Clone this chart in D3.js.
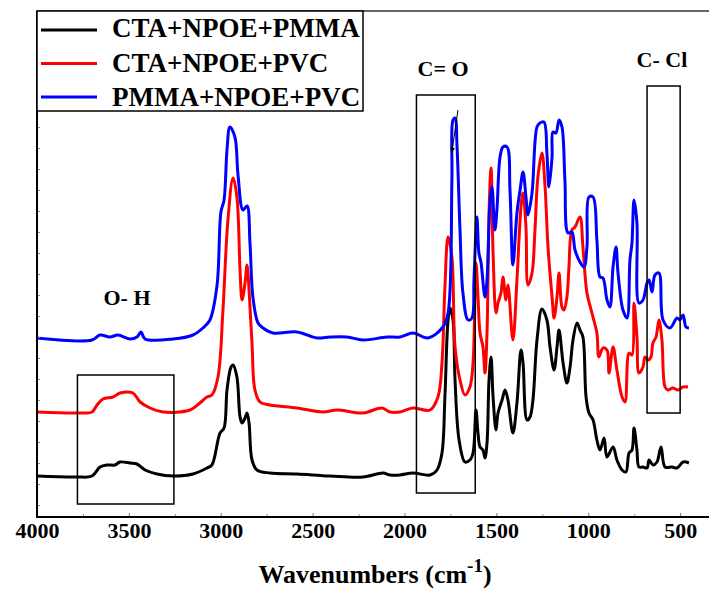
<!DOCTYPE html>
<html>
<head>
<meta charset="utf-8">
<script src="https://cdn.jsdelivr.net/npm/d3@7"></script>
<style>
    body { margin: 0; background: #fff; }
    svg { display: block; font-family: "Liberation Serif", "Times New Roman", serif; font-weight: bold; }
</style>
</head>
<body>
<div id="chart"></div>
<script>
// Legend names
const seriesNames = ['CTA+NPOE+PMMA', 'CTA+NPOE+PVC', 'PMMA+NPOE+PVC'];

// FTIR spectra: [wavenumber, intensity (a.u.)]
const ctaNpoePmma = [
    [4000, 8.2], [3782, 8], [3701, 8.2], [3657, 10], [3619, 10.4], [3576, 10.4], [3548, 11], [3494, 10.8],
    [3456, 10.6], [3412, 9.4], [3347, 8.6], [3260, 8.2], [3151, 8.6], [3075, 9.8], [3048, 10.4], [3004, 16.8],
    [2982, 17.8], [2966, 25.4], [2944, 30], [2933, 30.4], [2912, 28], [2895, 20], [2884, 18.8], [2868, 19.8],
    [2857, 20.8], [2846, 18.8], [2830, 11.4], [2803, 9.4], [2732, 8.8], [2585, 8.6], [2405, 8.2], [2226, 8],
    [2117, 8.8], [2079, 8.4], [2025, 8.4], [1954, 8.8], [1861, 8.4], [1823, 9.4], [1796, 12.8], [1780, 24],
    [1763, 39.4], [1752, 41.8], [1736, 39.4], [1725, 27.4], [1703, 15.4], [1671, 11], [1644, 11.4], [1627, 12.8],
    [1611, 21.4], [1600, 16.8], [1589, 14], [1573, 13.4], [1562, 11.8], [1551, 14.8], [1540, 27.4], [1529, 32],
    [1518, 24], [1502, 17.4], [1491, 20.8], [1469, 23.4], [1453, 25.4], [1437, 23.4], [1410, 16.8], [1388, 22.8],
    [1366, 33.4], [1355, 30.8], [1333, 19.4], [1317, 20], [1301, 23.4], [1279, 35.4], [1252, 41.6], [1225, 39.4],
    [1208, 34], [1186, 29.4], [1170, 34], [1159, 37.4], [1137, 30.8], [1116, 26.8], [1099, 30], [1083, 35.4],
    [1061, 38.8], [1045, 37.4], [1029, 36], [1012, 24], [996, 20.8], [974, 19.4], [953, 15.4], [936, 13.4],
    [914, 15.8], [898, 12], [865, 14], [844, 11.4], [816, 9.4], [795, 9], [778, 12.8], [762, 13.4],
    [751, 17.8], [735, 13.4], [724, 10], [702, 10], [680, 9.8], [669, 11.4], [648, 10.4], [626, 11],
    [604, 14], [582, 10], [544, 10], [517, 9.8], [484, 11], [452, 10.8]
];

const ctaNpoePvc = [
    [4000, 21], [3782, 20.8], [3701, 21], [3673, 22.4], [3641, 23.6], [3586, 24], [3548, 24.8], [3478, 24.8],
    [3439, 23], [3385, 21.8], [3314, 21], [3167, 21.4], [3113, 22.8], [3075, 24], [3048, 24.4], [3015, 28],
    [2988, 41.4], [2961, 59.4], [2933, 67.8], [2912, 64], [2895, 49.4], [2884, 43.4], [2868, 46.8], [2857, 50.4],
    [2852, 48.8], [2830, 34.8], [2814, 25.4], [2786, 23], [2732, 22.4], [2585, 21.8], [2444, 21], [2367, 21.4],
    [2226, 20.8], [2123, 21.8], [2079, 21], [2025, 21], [1954, 21.8], [1861, 21.4], [1818, 24], [1796, 30.8],
    [1780, 46], [1763, 56], [1742, 52], [1725, 34], [1698, 27.4], [1671, 24.4], [1644, 26], [1627, 30.8],
    [1611, 50.8], [1600, 44], [1589, 36.8], [1573, 34], [1562, 28.8], [1551, 36.8], [1540, 60.8], [1529, 69.8],
    [1518, 52.8], [1502, 40.8], [1491, 42.8], [1475, 44.8], [1464, 48], [1448, 43.4], [1437, 46.4], [1410, 35.4],
    [1388, 47.4], [1366, 62], [1355, 64.8], [1339, 58], [1328, 46.4], [1306, 48.8], [1290, 57.4], [1274, 68],
    [1252, 72.8], [1235, 66], [1219, 54], [1197, 44], [1186, 39.8], [1170, 44], [1159, 48.8], [1143, 42],
    [1132, 41.4], [1116, 44], [1105, 50], [1089, 57.4], [1072, 58], [1045, 60], [1029, 54], [1007, 44.8],
    [980, 40.8], [953, 36.8], [942, 32], [920, 33.8], [898, 33.4], [887, 28.8], [865, 34], [844, 29.4],
    [816, 24], [800, 23], [778, 32.8], [762, 32.4], [751, 42.8], [735, 36], [724, 28.8], [702, 30],
    [691, 32], [675, 31.4], [659, 32], [648, 34.8], [631, 36], [615, 39.4], [599, 35.4], [582, 26],
    [566, 25.4], [539, 25.8], [512, 25.4], [484, 26], [457, 26]
];

const pmmaNpoePvc = [
    [4000, 35.8], [3701, 35.4], [3657, 36.4], [3603, 36], [3559, 36.4], [3494, 35.6], [3456, 36], [3434, 37],
    [3412, 35.6], [3260, 35.6], [3151, 36.4], [3097, 37.8], [3059, 39.4], [3020, 46.4], [2999, 61], [2982, 63.4],
    [2966, 73.4], [2950, 78], [2923, 76], [2906, 68.4], [2879, 61.4], [2857, 62.2], [2841, 54.8], [2825, 44],
    [2797, 38.8], [2770, 37.8], [2716, 36.8], [2585, 37], [2476, 35.8], [2405, 36], [2313, 36], [2226, 35.4],
    [2095, 36], [2025, 36], [1954, 36.8], [1872, 35.8], [1791, 38], [1763, 40.8], [1742, 67.4], [1736, 79.4],
    [1725, 79.8], [1714, 74], [1698, 57.4], [1682, 44.8], [1654, 39.4], [1633, 39.8], [1622, 47.4], [1606, 60],
    [1595, 52.8], [1584, 51], [1562, 44], [1551, 47.4], [1535, 62.8], [1524, 66], [1508, 57.4], [1497, 61.4],
    [1480, 72], [1464, 74], [1442, 74], [1426, 65.4], [1410, 50.4], [1388, 60.8], [1371, 65.4], [1355, 69],
    [1339, 64], [1328, 60.4], [1306, 64.8], [1279, 78], [1263, 78.8], [1241, 79], [1225, 72.8], [1214, 66],
    [1197, 72], [1192, 77], [1176, 76.8], [1159, 79.4], [1143, 78], [1127, 67.4], [1110, 56.8], [1089, 57],
    [1072, 53.4], [1045, 51], [1023, 50], [1007, 54], [996, 64], [974, 64], [953, 55.4], [936, 48],
    [920, 47.8], [898, 43.4], [882, 42], [865, 50], [849, 54], [838, 48.8], [811, 41.4], [789, 39.8],
    [773, 51.4], [762, 54.8], [751, 63.4], [735, 58.8], [724, 42.8], [702, 43.4], [680, 46.8], [669, 47.4],
    [653, 45], [637, 48.4], [615, 48.8], [593, 39.4], [555, 37.8], [517, 39.8], [501, 39.4], [484, 40.4],
    [468, 38], [452, 37.8]
];

// Band annotations: label, wavenumber range, intensity range, label position
const bandLabels = ['O- H', 'C= O', 'C- Cl'];
const bandRanges = [[3780, 3255], [1935, 1615], [680, 500]];
const bandHeights = [[2.6, 28.4], [4.8, 84.4], [20.8, 86.2]];
const bandLabelAt = [[3510, 42.4], [1790, 88.2], [599, 90]];

const xTicks = [4000, 3500, 3000, 2500, 2000, 1500, 1000, 500];

const width = 709;
const height = 591;
const colors = ['#000000', '#ff0000', '#0000ff'];

const svg = d3.select('#chart')
    .append('svg')
    .attr('width', width)
    .attr('height', height);

const x = d3.scaleLinear().domain([4000, 0]).range([37, 772]);
const y = d3.scaleLinear().domain([0, 101.2]).range([517, 11]);

svg.append('clipPath').attr('id', 'plotClip')
    .append('rect')
    .attr('x', 37).attr('y', 11)
    .attr('width', 735).attr('height', 506);

// Frame top
svg.append('line')
    .attr('x1', 37).attr('x2', 772)
    .attr('y1', 11).attr('y2', 11)
    .attr('stroke', '#333')
    .attr('stroke-width', 1.5);

// Spectra
const line = d3.line()
    .x(d => x(d[0]))
    .y(d => y(d[1]))
    .curve(d3.curveCatmullRom.alpha(0.5));

[ctaNpoePmma, ctaNpoePvc, pmmaNpoePvc].forEach((s, i) => {
    svg.append('path')
        .datum(s)
        .attr('clip-path', 'url(#plotClip)')
        .attr('d', line)
        .attr('fill', 'none')
        .attr('stroke', colors[i])
        .attr('stroke-width', 3)
        .attr('stroke-linejoin', 'round');
});

// Band boxes and labels
bandLabels.forEach((label, i) => {
    const r = bandRanges[i];
    const h = bandHeights[i];
    svg.append('rect')
        .attr('x', x(r[0]))
        .attr('y', y(h[1]))
        .attr('width', x(r[1]) - x(r[0]))
        .attr('height', y(h[0]) - y(h[1]))
        .attr('fill', 'none')
        .attr('stroke', '#000')
        .attr('stroke-width', 1.5);

    svg.append('text')
        .attr('x', x(bandLabelAt[i][0]))
        .attr('y', y(bandLabelAt[i][1]))
        .attr('text-anchor', 'middle')
        .attr('font-size', 22)
        .text(label);
});

// Small arrow on the C=O peak
svg.append('defs').append('marker')
    .attr('id', 'arrowHead')
    .attr('viewBox', '0 0 10 10')
    .attr('refX', 9).attr('refY', 5)
    .attr('markerWidth', 5).attr('markerHeight', 8)
    .attr('orient', 'auto')
    .append('path')
    .attr('d', 'M0,0 L10,5 L0,10 z')
    .attr('fill', '#000');

svg.append('line')
    .attr('x1', x(1709)).attr('y1', y(81.4))
    .attr('x2', x(1742)).attr('y2', y(73))
    .attr('stroke', '#000')
    .attr('stroke-width', 1)
    .attr('marker-end', 'url(#arrowHead)');

// Bottom axis
const xAxis = svg.append('g')
    .attr('transform', 'translate(0,517)')
    .call(d3.axisBottom(x).tickValues(xTicks).tickFormat(d3.format('d')).tickSize(-4).tickPadding(5));
xAxis.select('.domain').remove();
xAxis.selectAll('text')
    .attr('font-size', 22)
    .attr('font-family', '"Liberation Serif", "Times New Roman", serif')
    .attr('font-weight', 'bold')
    .attr('fill', '#000');
xAxis.selectAll('.tick line').attr('stroke', '#777');

svg.append('g')
    .attr('transform', 'translate(0,517)')
    .call(d3.axisBottom(x).tickValues(d3.range(3750, 0, -500)).tickSize(-3).tickFormat(''))
    .call(g => g.select('.domain').remove())
    .selectAll('.tick line').attr('stroke', '#888');

// Left axis minor ticks
svg.append('g')
    .attr('transform', 'translate(37,0)')
    .call(d3.axisLeft(y).tickValues(d3.range(2.4, 100, 4.2)).tickSize(-3).tickFormat(''))
    .call(g => g.select('.domain').remove())
    .selectAll('.tick line').attr('stroke', '#888');

svg.append('line')
    .attr('x1', 36).attr('x2', 772)
    .attr('y1', 517).attr('y2', 517)
    .attr('stroke', '#000').attr('stroke-width', 2);
svg.append('line')
    .attr('x1', 37).attr('x2', 37)
    .attr('y1', 11).attr('y2', 518)
    .attr('stroke', '#000').attr('stroke-width', 2);

// Axis title
const title = svg.append('text')
    .attr('x', 375)
    .attr('y', 583)
    .attr('text-anchor', 'middle')
    .attr('font-size', 26);
title.append('tspan').text('Wavenumbers (cm');
title.append('tspan').attr('dy', -11).attr('font-size', 19).text('-1');
title.append('tspan').attr('dy', 11).text(')');

// Legend
const legend = svg.append('g');
legend.append('rect')
    .attr('x', 37).attr('y', 11)
    .attr('width', 326).attr('height', 100)
    .attr('fill', '#fff')
    .attr('stroke', '#000')
    .attr('stroke-width', 1.5);

seriesNames.forEach((name, i) => {
    const cy = 30 + i * 33.5;
    legend.append('line')
        .attr('x1', 41).attr('x2', 97)
        .attr('y1', cy).attr('y2', cy)
        .attr('stroke', colors[i])
        .attr('stroke-width', 3);
    legend.append('text')
        .attr('x', 112)
        .attr('y', 37 + i * 34.5)
        .attr('font-size', 27)
        .text(name);
});
</script>
</body>
</html>
